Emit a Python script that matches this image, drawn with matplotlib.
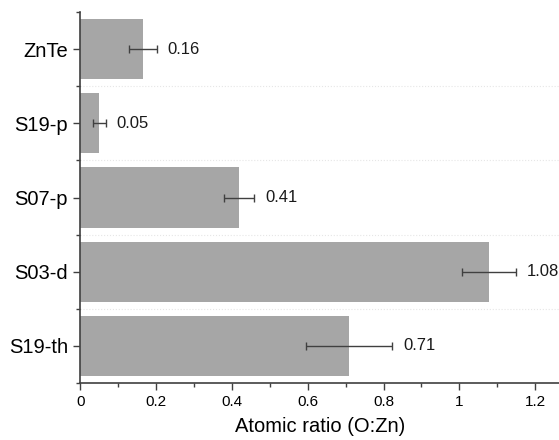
import matplotlib
matplotlib.use("Agg")
import matplotlib.pyplot as plt
import numpy as np
from matplotlib.ticker import MultipleLocator, FixedLocator

plt.rcParams['font.family'] = ['Liberation Sans', 'DejaVu Sans']

categories = ["ZnTe", "S19-p", "S07-p", "S03-d", "S19-th"]
values = [0.165, 0.049, 0.418, 1.078, 0.709]
errors = [0.036, 0.017, 0.040, 0.071, 0.113]
labels = ["0.16", "0.05", "0.41", "1.08", "0.71"]

fig = plt.figure(figsize=(5.59, 4.40), dpi=100)
ax = fig.add_axes([0.144, 0.1295, 0.856, 0.8432])

y = np.arange(len(categories))
ax.barh(y, values, height=0.81, color="#a6a6a6", zorder=2)
ax.errorbar(values, y, xerr=errors, fmt="none", ecolor="#404040",
            elinewidth=1.0, capsize=3, capthick=1.0, zorder=3)
for yi, v, e, lab in zip(y, values, errors, labels):
    ax.annotate(lab, xy=(v + e, yi), xytext=(8, 0), textcoords="offset points",
                ha="left", va="center", fontsize=12, color="#1a1a1a")

ax.set_ylim(len(categories) - 0.5, -0.5)
ax.set_xlim(0, 1.263)
ax.set_yticks(y)
ax.set_yticklabels(categories, fontsize=14.5)
ax.yaxis.set_minor_locator(FixedLocator(np.arange(-0.5, len(categories), 1.0)))
ax.xaxis.set_minor_locator(MultipleLocator(0.1))
ax.set_xticks([0, 0.2, 0.4, 0.6, 0.8, 1.0, 1.2])
ax.set_xticklabels(["0", "0.2", "0.4", "0.6", "0.8", "1", "1.2"], fontsize=11)
ax.set_xlabel("Atomic ratio (O:Zn)", fontsize=14.5, labelpad=6)

for b in np.arange(0.5, len(categories) - 1, 1.0):
    ax.axhline(b, color="#e6e6e6", linestyle=":", linewidth=0.8, zorder=1)

ax.spines['top'].set_visible(False)
ax.spines['right'].set_visible(False)
for s in ['left', 'bottom']:
    ax.spines[s].set_color("#404040")
    ax.spines[s].set_linewidth(1.2)
ax.tick_params(axis='both', which='major', direction='out', length=5, width=1.0, color="#404040")
ax.tick_params(axis='both', which='minor', direction='out', length=3, width=1.0, color="#404040")
ax.tick_params(axis='y', which='major', pad=4)

fig.savefig("out.png", dpi=100)
